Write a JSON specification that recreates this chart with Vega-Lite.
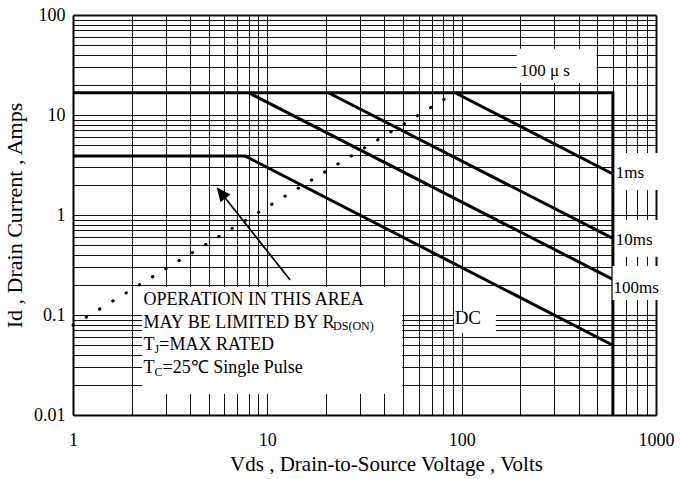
{
  "$schema": "https://vega.github.io/schema/vega-lite/v6.json",
  "width": 583,
  "height": 400,
  "autosize": {"type": "none"},
  "padding": {"left": 73, "top": 15, "right": 31, "bottom": 64},
  "background": "white",
  "config": {"view": {"stroke": null}, "font": "Liberation Serif"},
  "datasets": {
    "boxes": [
      {"name": "note", "v": 2.27, "v2": 49.4, "i": 0.0162, "i2": 0.19},
      {"name": "100us", "v": 192, "v2": 495, "i": 21, "i2": 46},
      {"name": "1ms", "v": 605, "v2": 1030, "i": 1.78, "i2": 4.17},
      {"name": "10ms", "v": 605, "v2": 1030, "i": 0.383, "i2": 0.891},
      {"name": "DC", "v": 91.5, "v2": 150, "i": 0.066, "i2": 0.107},
      {"name": "100ms", "v": 598, "v2": 1030, "i": 0.141, "i2": 0.309}
    ],
    "curves": [
      {"s": "limit", "k": 1, "v": 1, "i": 16.7},
      {"s": "limit", "k": 2, "v": 600, "i": 16.7},
      {"s": "limit", "k": 3, "v": 600, "i": 0.01},
      {"s": "1ms", "k": 1, "v": 92.5, "i": 16.7},
      {"s": "1ms", "k": 2, "v": 600, "i": 2.57},
      {"s": "10ms", "k": 1, "v": 20.6, "i": 16.7},
      {"s": "10ms", "k": 2, "v": 600, "i": 0.584},
      {"s": "100ms", "k": 1, "v": 8.0, "i": 16.7},
      {"s": "100ms", "k": 2, "v": 600, "i": 0.227},
      {"s": "DC", "k": 1, "v": 1, "i": 3.89},
      {"s": "DC", "k": 2, "v": 7.68, "i": 3.89},
      {"s": "DC", "k": 3, "v": 600, "i": 0.0498}
    ],
    "rdson": [
      {"v": 1, "i": 0.079},
      {"v": 92.5, "i": 16.7}
    ],
    "arrow": [
      {"k": 1, "v": 13.1, "i": 0.224},
      {"k": 2, "v": 5.78, "i": 1.667}
    ],
    "head": [
      {"v": 5.78, "i": 1.667}
    ],
    "labels": [
      {"t": "100 μ s", "v": 200, "i": 27.5},
      {"t": "1ms", "v": 620, "i": 2.63},
      {"t": "10ms", "v": 620, "i": 0.56},
      {"t": "100ms", "v": 605, "i": 0.186}
    ],
    "dclabel": [
      {"t": "DC", "v": 92, "i": 0.093}
    ],
    "notes": [
      {"t": "OPERATION IN THIS AREA", "v": 2.306, "i": 0.126},
      {"t": "MAY BE LIMITED BY R", "v": 2.306, "i": 0.0746},
      {"t": "T", "v": 2.306, "i": 0.0447},
      {"t": "=MAX RATED", "v": 2.778, "i": 0.0447},
      {"t": "T", "v": 2.306, "i": 0.0265},
      {"t": "=25℃  Single Pulse", "v": 2.89, "i": 0.0265}
    ],
    "subs": [
      {"t": "DS(ON)", "v": 21.8, "i": 0.070},
      {"t": "J", "v": 2.628, "i": 0.0417},
      {"t": "C", "v": 2.628, "i": 0.0247}
    ]
  },
  "encoding": {
    "x": {
      "field": "v",
      "type": "quantitative",
      "scale": {"type": "log", "domain": [1, 1000], "nice": false},
      "axis": {
        "values": [1,2,3,4,5,6,7,8,9,10,20,30,40,50,60,70,80,90,100,200,300,400,500,600,700,800,900,1000],
        "grid": true,
        "gridColor": "#111",
        "gridOpacity": 1,
        "gridWidth": {"condition": {"test": "datum.value == 1000", "value": 2}, "value": 1},
        "domain": true,
        "domainColor": "#000",
        "domainWidth": 2,
        "ticks": false,
        "tickSize": 0,
        "labelExpr": "abs(log(datum.value)/LN10 - round(log(datum.value)/LN10)) < 0.001 ? format(datum.value, '~g') : ''",
        "labelFont": "Liberation Serif",
        "labelFontSize": 18,
        "labelColor": "#000",
        "labelPadding": 16,
        "labelFlush": false,
        "labelOverlap": false,
        "title": "Vds , Drain-to-Source Voltage , Volts",
        "titleFont": "Liberation Serif",
        "titleFontSize": 21,
        "titleFontWeight": "normal",
        "titleColor": "#000",
        "titlePadding": 4,
        "titleX": 313
      }
    },
    "y": {
      "field": "i",
      "type": "quantitative",
      "scale": {"type": "log", "domain": [0.01, 100], "nice": false},
      "axis": {
        "values": [0.01,0.02,0.03,0.04,0.05,0.06,0.07,0.08,0.09,0.1,0.2,0.3,0.4,0.5,0.6,0.7,0.8,0.9,1,2,3,4,5,6,7,8,9,10,20,30,40,50,60,70,80,90,100],
        "grid": true,
        "gridColor": "#111",
        "gridOpacity": 1,
        "gridWidth": {"condition": {"test": "datum.value == 100", "value": 2}, "value": 1},
        "domain": true,
        "domainColor": "#000",
        "domainWidth": 2,
        "ticks": false,
        "tickSize": 0,
        "labelExpr": "abs(log(datum.value)/LN10 - round(log(datum.value)/LN10)) < 0.001 ? format(datum.value, '~g') : ''",
        "labelFont": "Liberation Serif",
        "labelFontSize": 18,
        "labelColor": "#000",
        "labelPadding": 8,
        "labelFlush": false,
        "labelOverlap": false,
        "title": "Id , Drain Current , Amps",
        "titleFont": "Liberation Serif",
        "titleFontSize": 22,
        "titleFontWeight": "normal",
        "titleColor": "#000",
        "titlePadding": 7
      }
    }
  },
  "layer": [
    {
      "data": {"name": "boxes"},
      "transform": [{"filter": "datum.name != '100ms'"}],
      "mark": {"type": "rect", "fill": "white", "strokeWidth": 0},
      "encoding": {"x2": {"field": "v2"}, "y2": {"field": "i2"}}
    },
    {
      "data": {"name": "curves"},
      "mark": {"type": "line", "color": "#000", "strokeWidth": 3, "strokeJoin": "miter"},
      "encoding": {"detail": {"field": "s"}, "order": {"field": "k", "type": "quantitative"}}
    },
    {
      "data": {"name": "rdson"},
      "mark": {"type": "line", "color": "#000", "strokeWidth": 3, "strokeDash": [0.5, 15], "strokeCap": "round"},
      "encoding": {}
    },
    {
      "data": {"name": "arrow"},
      "mark": {"type": "line", "color": "#000", "strokeWidth": 1.7},
      "encoding": {"order": {"field": "k", "type": "quantitative"}}
    },
    {
      "data": {"name": "head"},
      "mark": {"type": "point", "shape": "M0,-1L0.9,1L-0.9,1Z", "filled": true, "color": "#000", "opacity": 1, "size": 196, "angle": 321.7}
    },
    {
      "data": {"name": "boxes"},
      "transform": [{"filter": "datum.name == '100ms'"}],
      "mark": {"type": "rect", "fill": "white", "strokeWidth": 0},
      "encoding": {"x2": {"field": "v2"}, "y2": {"field": "i2"}}
    },
    {
      "data": {"name": "labels"},
      "mark": {"type": "text", "align": "left", "baseline": "middle", "font": "Liberation Serif", "fontSize": 17, "color": "#000"},
      "encoding": {"text": {"field": "t"}}
    },
    {
      "data": {"name": "dclabel"},
      "mark": {"type": "text", "align": "left", "baseline": "middle", "font": "Liberation Serif", "fontSize": 19, "color": "#000"},
      "encoding": {"text": {"field": "t"}}
    },
    {
      "data": {"name": "notes"},
      "mark": {"type": "text", "align": "left", "baseline": "alphabetic", "font": "Liberation Serif", "fontSize": 18, "color": "#000"},
      "encoding": {"text": {"field": "t"}}
    },
    {
      "data": {"name": "subs"},
      "mark": {"type": "text", "align": "left", "baseline": "alphabetic", "font": "Liberation Serif", "fontSize": 12, "color": "#000"},
      "encoding": {"text": {"field": "t"}}
    }
  ]
}
